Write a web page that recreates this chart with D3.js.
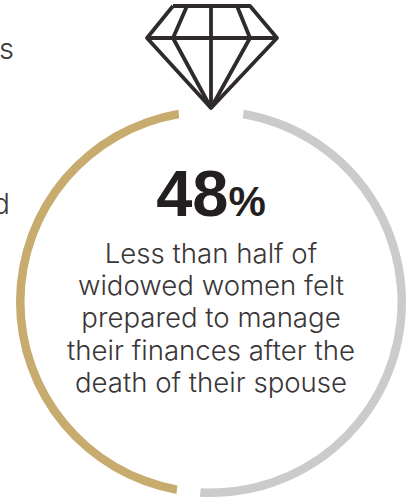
<!DOCTYPE html>
<html>
<head>
<meta charset="utf-8">
<script src="https://cdn.jsdelivr.net/npm/d3@7/dist/d3.min.js"></script>
<style>
html,body{margin:0;padding:0;background:#fff;overflow:hidden}
svg{display:block}
</style>
</head>
<body>
<svg id="chart" width="413" height="497"></svg>
<script>
// Share of widowed women who felt prepared, against the remainder
const categories = ["Felt prepared", "Did not feel prepared"];
const shareValues = [48, 52];
const ringColors = ["#c8ab6e", "#cbcbcb"];
const headlineNumber = "48";
const headlineUnit = "%";
const captionLines = [
  "Less than half of",
  "widowed women felt",
  "prepared to manage",
  "their finances after the",
  "death of their spouse"
];
// Ends of words from the neighbouring column, cut off by the page edge
const clippedWords = [{text: "s", y: 59, end: 14}, {text: "d", y: 214, end: 10}];

// Gem outline in its own 0-130 by 0-102 drawing units
const gemLines = [
  [[26,0],[103,0],[130,32],[64,102],[0,32],[26,0]],
  [[0,32],[130,32]],
  [[64,0],[64,102]],
  [[40,0],[26,32],[64,102]],
  [[90,0],[103,32],[64,102]]
];

const svg = d3.select("#chart");
const cx = 211, cy = 302, outerR = 195, ringWidth = 8.5;
const deg = Math.PI / 180;
const bodyFont = "Inter, Roboto, 'Liberation Sans', sans-serif";

// The ring runs counter-clockwise from the gap under the gem
const pie = d3.pie().value(d => d).sort(null)
  .startAngle(-6.2 * deg)
  .endAngle(-353.8 * deg)
  .padAngle(5 * deg);
const arc = d3.arc().innerRadius(outerR - ringWidth).outerRadius(outerR);

svg.append("g").attr("transform", `translate(${cx},${cy})`)
  .selectAll("path").data(pie(shareValues)).join("path")
  .attr("d", arc)
  .attr("fill", (d, i) => ringColors[i])
  .append("title").text((d, i) => categories[i]);

const gemX = d3.scaleLinear().domain([0, 130]).range([147, 277]);
const gemY = d3.scaleLinear().domain([0, 102]).range([6, 108]);
const gemLine = d3.line().x(d => gemX(d[0])).y(d => gemY(d[1]));
svg.append("g").selectAll("path").data(gemLines).join("path")
  .attr("d", gemLine)
  .attr("fill", "none")
  .attr("stroke", "#2f2a2b")
  .attr("stroke-width", 3.8)
  .attr("stroke-linejoin", "round");

const headline = svg.append("text")
  .attr("x", cx).attr("y", 216)
  .attr("text-anchor", "middle")
  .attr("fill", "#231f20")
  .attr("font-family", "'Liberation Sans', sans-serif");
headline.append("tspan").text(headlineNumber)
  .attr("font-size", 65).attr("font-weight", 700);
headline.append("tspan").text(headlineUnit)
  .attr("font-size", 42).attr("font-weight", 700);

svg.append("g").selectAll("text").data(captionLines).join("text")
  .attr("x", cx)
  .attr("y", (d, i) => 263 + i * 32.2)
  .attr("text-anchor", "middle")
  .attr("font-family", bodyFont)
  .attr("font-size", 27.6)
  .attr("font-weight", 300)
  .attr("fill", "#3a3637")
  .text(d => d);

svg.append("g").selectAll("text").data(clippedWords).join("text")
  .attr("x", d => d.end)
  .attr("y", d => d.y)
  .attr("text-anchor", "end")
  .attr("font-family", bodyFont)
  .attr("font-size", 29)
  .attr("font-weight", 300)
  .attr("fill", "#3a3637")
  .text(d => d.text);
</script>
</body>
</html>
